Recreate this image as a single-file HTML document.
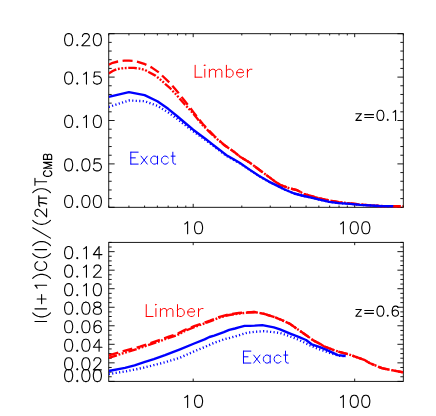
<!DOCTYPE html>
<html><head><meta charset="utf-8"><title>plot</title>
<style>html,body{margin:0;padding:0;background:#fff;font-family:"Liberation Sans",sans-serif;}svg{display:block}</style>
</head><body>
<svg width="436" height="416" viewBox="0 0 436 416">
<defs><clipPath id="c0"><rect x="108.75" y="33.7" width="294.55" height="175.10000000000002"/></clipPath><clipPath id="c1"><rect x="108.75" y="242.38" width="294.55" height="139.0"/></clipPath></defs>
<rect width="436" height="416" fill="#fff"/>
<rect x="108.75" y="33.70" width="294.55" height="173.60" fill="none" stroke="#000" stroke-width="0.9"/>
<line x1="108.75" y1="207.30" x2="108.75" y2="205.56" stroke="#000" stroke-width="0.9"/>
<line x1="108.75" y1="33.70" x2="108.75" y2="35.44" stroke="#000" stroke-width="0.9"/>
<line x1="128.93" y1="207.30" x2="128.93" y2="205.56" stroke="#000" stroke-width="0.9"/>
<line x1="128.93" y1="33.70" x2="128.93" y2="35.44" stroke="#000" stroke-width="0.9"/>
<line x1="144.58" y1="207.30" x2="144.58" y2="205.56" stroke="#000" stroke-width="0.9"/>
<line x1="144.58" y1="33.70" x2="144.58" y2="35.44" stroke="#000" stroke-width="0.9"/>
<line x1="157.36" y1="207.30" x2="157.36" y2="205.56" stroke="#000" stroke-width="0.9"/>
<line x1="157.36" y1="33.70" x2="157.36" y2="35.44" stroke="#000" stroke-width="0.9"/>
<line x1="168.18" y1="207.30" x2="168.18" y2="205.56" stroke="#000" stroke-width="0.9"/>
<line x1="168.18" y1="33.70" x2="168.18" y2="35.44" stroke="#000" stroke-width="0.9"/>
<line x1="177.54" y1="207.30" x2="177.54" y2="205.56" stroke="#000" stroke-width="0.9"/>
<line x1="177.54" y1="33.70" x2="177.54" y2="35.44" stroke="#000" stroke-width="0.9"/>
<line x1="185.80" y1="207.30" x2="185.80" y2="205.56" stroke="#000" stroke-width="0.9"/>
<line x1="185.80" y1="33.70" x2="185.80" y2="35.44" stroke="#000" stroke-width="0.9"/>
<line x1="193.19" y1="207.30" x2="193.19" y2="203.83" stroke="#000" stroke-width="0.9"/>
<line x1="193.19" y1="33.70" x2="193.19" y2="37.17" stroke="#000" stroke-width="0.9"/>
<line x1="241.81" y1="207.30" x2="241.81" y2="205.56" stroke="#000" stroke-width="0.9"/>
<line x1="241.81" y1="33.70" x2="241.81" y2="35.44" stroke="#000" stroke-width="0.9"/>
<line x1="270.24" y1="207.30" x2="270.24" y2="205.56" stroke="#000" stroke-width="0.9"/>
<line x1="270.24" y1="33.70" x2="270.24" y2="35.44" stroke="#000" stroke-width="0.9"/>
<line x1="290.42" y1="207.30" x2="290.42" y2="205.56" stroke="#000" stroke-width="0.9"/>
<line x1="290.42" y1="33.70" x2="290.42" y2="35.44" stroke="#000" stroke-width="0.9"/>
<line x1="306.07" y1="207.30" x2="306.07" y2="205.56" stroke="#000" stroke-width="0.9"/>
<line x1="306.07" y1="33.70" x2="306.07" y2="35.44" stroke="#000" stroke-width="0.9"/>
<line x1="318.86" y1="207.30" x2="318.86" y2="205.56" stroke="#000" stroke-width="0.9"/>
<line x1="318.86" y1="33.70" x2="318.86" y2="35.44" stroke="#000" stroke-width="0.9"/>
<line x1="329.67" y1="207.30" x2="329.67" y2="205.56" stroke="#000" stroke-width="0.9"/>
<line x1="329.67" y1="33.70" x2="329.67" y2="35.44" stroke="#000" stroke-width="0.9"/>
<line x1="339.04" y1="207.30" x2="339.04" y2="205.56" stroke="#000" stroke-width="0.9"/>
<line x1="339.04" y1="33.70" x2="339.04" y2="35.44" stroke="#000" stroke-width="0.9"/>
<line x1="347.30" y1="207.30" x2="347.30" y2="205.56" stroke="#000" stroke-width="0.9"/>
<line x1="347.30" y1="33.70" x2="347.30" y2="35.44" stroke="#000" stroke-width="0.9"/>
<line x1="354.69" y1="207.30" x2="354.69" y2="203.83" stroke="#000" stroke-width="0.9"/>
<line x1="354.69" y1="33.70" x2="354.69" y2="37.17" stroke="#000" stroke-width="0.9"/>
<line x1="403.30" y1="207.30" x2="403.30" y2="205.56" stroke="#000" stroke-width="0.9"/>
<line x1="403.30" y1="33.70" x2="403.30" y2="35.44" stroke="#000" stroke-width="0.9"/>
<line x1="108.75" y1="207.30" x2="114.64" y2="207.30" stroke="#000" stroke-width="0.9"/>
<line x1="403.30" y1="207.30" x2="397.41" y2="207.30" stroke="#000" stroke-width="0.9"/>
<line x1="108.75" y1="198.62" x2="111.70" y2="198.62" stroke="#000" stroke-width="0.9"/>
<line x1="403.30" y1="198.62" x2="400.35" y2="198.62" stroke="#000" stroke-width="0.9"/>
<line x1="108.75" y1="189.94" x2="111.70" y2="189.94" stroke="#000" stroke-width="0.9"/>
<line x1="403.30" y1="189.94" x2="400.35" y2="189.94" stroke="#000" stroke-width="0.9"/>
<line x1="108.75" y1="181.26" x2="111.70" y2="181.26" stroke="#000" stroke-width="0.9"/>
<line x1="403.30" y1="181.26" x2="400.35" y2="181.26" stroke="#000" stroke-width="0.9"/>
<line x1="108.75" y1="172.58" x2="111.70" y2="172.58" stroke="#000" stroke-width="0.9"/>
<line x1="403.30" y1="172.58" x2="400.35" y2="172.58" stroke="#000" stroke-width="0.9"/>
<line x1="108.75" y1="163.90" x2="114.64" y2="163.90" stroke="#000" stroke-width="0.9"/>
<line x1="403.30" y1="163.90" x2="397.41" y2="163.90" stroke="#000" stroke-width="0.9"/>
<line x1="108.75" y1="155.22" x2="111.70" y2="155.22" stroke="#000" stroke-width="0.9"/>
<line x1="403.30" y1="155.22" x2="400.35" y2="155.22" stroke="#000" stroke-width="0.9"/>
<line x1="108.75" y1="146.54" x2="111.70" y2="146.54" stroke="#000" stroke-width="0.9"/>
<line x1="403.30" y1="146.54" x2="400.35" y2="146.54" stroke="#000" stroke-width="0.9"/>
<line x1="108.75" y1="137.86" x2="111.70" y2="137.86" stroke="#000" stroke-width="0.9"/>
<line x1="403.30" y1="137.86" x2="400.35" y2="137.86" stroke="#000" stroke-width="0.9"/>
<line x1="108.75" y1="129.18" x2="111.70" y2="129.18" stroke="#000" stroke-width="0.9"/>
<line x1="403.30" y1="129.18" x2="400.35" y2="129.18" stroke="#000" stroke-width="0.9"/>
<line x1="108.75" y1="120.50" x2="114.64" y2="120.50" stroke="#000" stroke-width="0.9"/>
<line x1="403.30" y1="120.50" x2="397.41" y2="120.50" stroke="#000" stroke-width="0.9"/>
<line x1="108.75" y1="111.82" x2="111.70" y2="111.82" stroke="#000" stroke-width="0.9"/>
<line x1="403.30" y1="111.82" x2="400.35" y2="111.82" stroke="#000" stroke-width="0.9"/>
<line x1="108.75" y1="103.14" x2="111.70" y2="103.14" stroke="#000" stroke-width="0.9"/>
<line x1="403.30" y1="103.14" x2="400.35" y2="103.14" stroke="#000" stroke-width="0.9"/>
<line x1="108.75" y1="94.46" x2="111.70" y2="94.46" stroke="#000" stroke-width="0.9"/>
<line x1="403.30" y1="94.46" x2="400.35" y2="94.46" stroke="#000" stroke-width="0.9"/>
<line x1="108.75" y1="85.78" x2="111.70" y2="85.78" stroke="#000" stroke-width="0.9"/>
<line x1="403.30" y1="85.78" x2="400.35" y2="85.78" stroke="#000" stroke-width="0.9"/>
<line x1="108.75" y1="77.10" x2="114.64" y2="77.10" stroke="#000" stroke-width="0.9"/>
<line x1="403.30" y1="77.10" x2="397.41" y2="77.10" stroke="#000" stroke-width="0.9"/>
<line x1="108.75" y1="68.42" x2="111.70" y2="68.42" stroke="#000" stroke-width="0.9"/>
<line x1="403.30" y1="68.42" x2="400.35" y2="68.42" stroke="#000" stroke-width="0.9"/>
<line x1="108.75" y1="59.74" x2="111.70" y2="59.74" stroke="#000" stroke-width="0.9"/>
<line x1="403.30" y1="59.74" x2="400.35" y2="59.74" stroke="#000" stroke-width="0.9"/>
<line x1="108.75" y1="51.06" x2="111.70" y2="51.06" stroke="#000" stroke-width="0.9"/>
<line x1="403.30" y1="51.06" x2="400.35" y2="51.06" stroke="#000" stroke-width="0.9"/>
<line x1="108.75" y1="42.38" x2="111.70" y2="42.38" stroke="#000" stroke-width="0.9"/>
<line x1="403.30" y1="42.38" x2="400.35" y2="42.38" stroke="#000" stroke-width="0.9"/>
<line x1="108.75" y1="33.70" x2="114.64" y2="33.70" stroke="#000" stroke-width="0.9"/>
<line x1="403.30" y1="33.70" x2="397.41" y2="33.70" stroke="#000" stroke-width="0.9"/>
<path d="M68.05 195.43 L66.33 196.00 L65.18 197.72 L64.60 200.60 L64.60 202.32 L65.18 205.20 L66.33 206.93 L68.05 207.50 L69.20 207.50 L70.93 206.93 L72.08 205.20 L72.65 202.32 L72.65 200.60 L72.08 197.72 L70.93 196.00 L69.20 195.43 L68.05 195.43 M77.25 206.35 L76.68 206.93 L77.25 207.50 L77.83 206.93 L77.25 206.35 M85.30 195.43 L83.58 196.00 L82.43 197.72 L81.85 200.60 L81.85 202.32 L82.43 205.20 L83.58 206.93 L85.30 207.50 L86.45 207.50 L88.18 206.93 L89.33 205.20 L89.90 202.32 L89.90 200.60 L89.33 197.72 L88.18 196.00 L86.45 195.43 L85.30 195.43 M96.80 195.43 L95.08 196.00 L93.93 197.72 L93.35 200.60 L93.35 202.32 L93.93 205.20 L95.08 206.93 L96.80 207.50 L97.95 207.50 L99.68 206.93 L100.83 205.20 L101.40 202.32 L101.40 200.60 L100.83 197.72 L99.68 196.00 L97.95 195.43 L96.80 195.43" fill="none" stroke="#000" stroke-width="1.1" stroke-linecap="round" stroke-linejoin="round"/>
<path d="M68.05 158.83 L66.33 159.40 L65.18 161.12 L64.60 164.00 L64.60 165.72 L65.18 168.60 L66.33 170.33 L68.05 170.90 L69.20 170.90 L70.93 170.33 L72.08 168.60 L72.65 165.72 L72.65 164.00 L72.08 161.12 L70.93 159.40 L69.20 158.83 L68.05 158.83 M77.25 169.75 L76.68 170.33 L77.25 170.90 L77.83 170.33 L77.25 169.75 M85.30 158.83 L83.58 159.40 L82.43 161.12 L81.85 164.00 L81.85 165.72 L82.43 168.60 L83.58 170.33 L85.30 170.90 L86.45 170.90 L88.18 170.33 L89.33 168.60 L89.90 165.72 L89.90 164.00 L89.33 161.12 L88.18 159.40 L86.45 158.83 L85.30 158.83 M100.25 158.83 L94.50 158.83 L93.93 164.00 L94.50 163.43 L96.22 162.85 L97.95 162.85 L99.68 163.43 L100.83 164.58 L101.40 166.30 L101.40 167.45 L100.83 169.18 L99.68 170.33 L97.95 170.90 L96.22 170.90 L94.50 170.33 L93.93 169.75 L93.35 168.60" fill="none" stroke="#000" stroke-width="1.1" stroke-linecap="round" stroke-linejoin="round"/>
<path d="M68.05 115.42 L66.33 116.00 L65.18 117.72 L64.60 120.60 L64.60 122.33 L65.18 125.20 L66.33 126.92 L68.05 127.50 L69.20 127.50 L70.93 126.92 L72.08 125.20 L72.65 122.33 L72.65 120.60 L72.08 117.72 L70.93 116.00 L69.20 115.42 L68.05 115.42 M77.25 126.35 L76.68 126.92 L77.25 127.50 L77.83 126.92 L77.25 126.35 M83.58 117.72 L84.73 117.15 L86.45 115.42 L86.45 127.50 M96.80 115.42 L95.08 116.00 L93.93 117.72 L93.35 120.60 L93.35 122.33 L93.93 125.20 L95.08 126.92 L96.80 127.50 L97.95 127.50 L99.68 126.92 L100.83 125.20 L101.40 122.33 L101.40 120.60 L100.83 117.72 L99.68 116.00 L97.95 115.42 L96.80 115.42" fill="none" stroke="#000" stroke-width="1.1" stroke-linecap="round" stroke-linejoin="round"/>
<path d="M68.05 72.03 L66.33 72.60 L65.18 74.33 L64.60 77.20 L64.60 78.93 L65.18 81.80 L66.33 83.53 L68.05 84.10 L69.20 84.10 L70.93 83.53 L72.08 81.80 L72.65 78.93 L72.65 77.20 L72.08 74.33 L70.93 72.60 L69.20 72.03 L68.05 72.03 M77.25 82.95 L76.68 83.53 L77.25 84.10 L77.83 83.53 L77.25 82.95 M83.58 74.33 L84.73 73.75 L86.45 72.03 L86.45 84.10 M100.25 72.03 L94.50 72.03 L93.93 77.20 L94.50 76.63 L96.22 76.05 L97.95 76.05 L99.68 76.63 L100.83 77.78 L101.40 79.50 L101.40 80.65 L100.83 82.38 L99.68 83.53 L97.95 84.10 L96.22 84.10 L94.50 83.53 L93.93 82.95 L93.35 81.80" fill="none" stroke="#000" stroke-width="1.1" stroke-linecap="round" stroke-linejoin="round"/>
<path d="M68.05 33.60 L66.33 34.18 L65.18 35.90 L64.60 38.78 L64.60 40.50 L65.18 43.38 L66.33 45.10 L68.05 45.68 L69.20 45.68 L70.93 45.10 L72.08 43.38 L72.65 40.50 L72.65 38.78 L72.08 35.90 L70.93 34.18 L69.20 33.60 L68.05 33.60 M77.25 44.53 L76.68 45.10 L77.25 45.68 L77.83 45.10 L77.25 44.53 M82.43 36.48 L82.43 35.90 L83.00 34.75 L83.58 34.18 L84.73 33.60 L87.03 33.60 L88.18 34.18 L88.75 34.75 L89.33 35.90 L89.33 37.05 L88.75 38.20 L87.60 39.93 L81.85 45.68 L89.90 45.68 M96.80 33.60 L95.08 34.18 L93.93 35.90 L93.35 38.78 L93.35 40.50 L93.93 43.38 L95.08 45.10 L96.80 45.68 L97.95 45.68 L99.68 45.10 L100.83 43.38 L101.40 40.50 L101.40 38.78 L100.83 35.90 L99.68 34.18 L97.95 33.60 L96.80 33.60" fill="none" stroke="#000" stroke-width="1.1" stroke-linecap="round" stroke-linejoin="round"/>
<path d="M184.74 224.03 L185.89 223.45 L187.62 221.73 L187.62 233.80 M197.97 221.73 L196.24 222.30 L195.09 224.03 L194.52 226.90 L194.52 228.62 L195.09 231.50 L196.24 233.23 L197.97 233.80 L199.12 233.80 L200.84 233.23 L201.99 231.50 L202.57 228.62 L202.57 226.90 L201.99 224.03 L200.84 222.30 L199.12 221.73 L197.97 221.73" fill="none" stroke="#000" stroke-width="1.1" stroke-linecap="round" stroke-linejoin="round"/>
<path d="M340.49 224.03 L341.64 223.45 L343.36 221.73 L343.36 233.80 M353.71 221.73 L351.99 222.30 L350.84 224.03 L350.26 226.90 L350.26 228.62 L350.84 231.50 L351.99 233.23 L353.71 233.80 L354.86 233.80 L356.59 233.23 L357.74 231.50 L358.31 228.62 L358.31 226.90 L357.74 224.03 L356.59 222.30 L354.86 221.73 L353.71 221.73 M365.21 221.73 L363.49 222.30 L362.34 224.03 L361.76 226.90 L361.76 228.62 L362.34 231.50 L363.49 233.23 L365.21 233.80 L366.36 233.80 L368.09 233.23 L369.24 231.50 L369.81 228.62 L369.81 226.90 L369.24 224.03 L368.09 222.30 L366.36 221.73 L365.21 221.73" fill="none" stroke="#000" stroke-width="1.1" stroke-linecap="round" stroke-linejoin="round"/>
<path d="M108.70 64.70 L112.70 62.80 L118.00 61.50 L124.20 60.70 L129.00 60.60 L133.85 60.90 L138.65 62.10 L145.00 64.20 L151.50 67.40 L159.20 72.70 L163.10 76.50 L169.80 83.00 L173.65 87.20 L178.50 93.00 L184.60 100.80 L193.60 112.40 L203.00 124.20 L208.80 130.20 L214.60 136.30 L224.20 145.00 L233.85 151.70 L240.00 156.70 L249.60 162.50 L259.20 169.70 L268.85 176.90 L275.00 181.50 L280.80 185.20 L289.40 188.30 L297.10 190.20 L303.85 193.80 L315.00 197.20 L324.40 199.50 L338.85 202.20 L350.00 203.40 L360.00 204.50 L378.80 206.00 L403.30 206.30" fill="none" stroke="#f00" stroke-width="2.35" stroke-linejoin="round" stroke-dasharray="10 4.5" clip-path="url(#c0)"/>
<path d="M108.70 73.40 L112.70 71.00 L116.50 69.20 L122.30 68.30 L129.00 67.90 L133.85 67.90 L138.65 68.40 L145.00 69.90 L149.10 72.30 L155.40 75.60 L157.80 77.50 L160.70 79.90 L163.60 82.30 L166.00 84.70 L169.80 87.80 L172.70 91.00 L175.60 93.90 L178.10 96.80 L184.60 104.20 L193.60 114.00 L203.00 125.60 L208.80 131.30 L214.60 136.90 L224.20 145.00 L233.85 151.70 L240.00 156.70 L249.60 162.50 L259.20 169.70 L268.85 176.90 L275.00 181.50 L280.80 185.20 L289.40 188.30 L297.10 190.20 L303.85 193.80 L315.00 197.20 L324.40 199.50 L338.85 202.20 L350.00 203.40 L360.00 204.50 L378.80 206.00 L403.30 206.30" fill="none" stroke="#f00" stroke-width="2.35" stroke-linejoin="round" stroke-dasharray="8.6 1.7 1.85 1.6 1.85 1.6 1.85 1.65" clip-path="url(#c0)"/>
<path d="M108.70 96.80 L128.93 92.10 L144.58 95.10 L157.36 101.30 L168.18 108.80 L177.54 116.50 L185.80 123.50 L193.19 129.70 L199.88 134.70 L205.98 139.30 L211.59 143.70 L216.79 147.70 L221.63 151.40 L226.50 155.20 L233.65 159.30 L240.00 163.00 L249.60 169.60 L259.20 175.90 L268.85 181.60 L275.00 184.60 L280.00 187.10 L284.60 189.50 L294.20 193.50 L303.85 196.00 L310.00 197.30 L319.60 199.70 L329.20 201.90 L338.85 203.10 L350.00 203.90 L360.00 204.80 L378.80 206.00 L393.30 206.20" fill="none" stroke="#00f" stroke-width="2.35" stroke-linejoin="round" clip-path="url(#c0)"/>
<path d="M108.70 106.90 L128.93 100.50 L144.58 101.20 L157.36 105.80 L168.18 112.40 L177.54 119.20 L185.80 125.60 L193.19 131.30 L199.88 136.00 L205.98 140.40 L211.59 144.60 L216.79 148.50 L221.63 152.20 L226.50 155.90 L233.65 159.90 L240.00 163.50 L249.60 170.00 L259.20 176.20 L268.85 181.80 L275.00 184.60 L280.00 187.10 L284.60 189.50 L294.20 193.50 L303.85 196.00 L310.00 197.30 L319.60 199.70 L329.20 201.90 L338.85 203.10 L350.00 203.90 L360.00 204.80 L378.80 206.00 L393.30 206.20" fill="none" stroke="#00f" stroke-width="2.35" stroke-linejoin="round" stroke-dasharray="1.15 2.35" clip-path="url(#c0)"/>
<path d="M195.16 65.27 L195.16 77.20 M195.16 77.20 L201.98 77.20 M204.25 65.27 L204.82 65.84 L205.39 65.27 L204.82 64.70 L204.25 65.27 M204.82 69.25 L204.82 77.20 M209.36 69.25 L209.36 77.20 M209.36 71.52 L211.07 69.82 L212.20 69.25 L213.91 69.25 L215.04 69.82 L215.61 71.52 L215.61 77.20 M215.61 71.52 L217.32 69.82 L218.45 69.25 L220.16 69.25 L221.29 69.82 L221.86 71.52 L221.86 77.20 M226.40 65.27 L226.40 77.20 M226.40 70.95 L227.54 69.82 L228.68 69.25 L230.38 69.25 L231.52 69.82 L232.65 70.95 L233.22 72.66 L233.22 73.79 L232.65 75.50 L231.52 76.63 L230.38 77.20 L228.68 77.20 L227.54 76.63 L226.40 75.50 M236.63 72.66 L243.44 72.66 L243.44 71.52 L242.88 70.38 L242.31 69.82 L241.17 69.25 L239.47 69.25 L238.33 69.82 L237.20 70.95 L236.63 72.66 L236.63 73.79 L237.20 75.50 L238.33 76.63 L239.47 77.20 L241.17 77.20 L242.31 76.63 L243.44 75.50 M247.42 69.25 L247.42 77.20 M247.42 72.66 L247.99 70.95 L249.12 69.82 L250.26 69.25 L251.96 69.25" fill="none" stroke="#f00" stroke-width="1.0" stroke-linecap="round" stroke-linejoin="round"/>
<path d="M130.80 152.17 L130.80 164.10 M130.80 152.17 L138.18 152.17 M130.80 157.85 L135.34 157.85 M130.80 164.10 L138.18 164.10 M141.02 156.15 L147.27 164.10 M147.27 156.15 L141.02 164.10 M157.49 156.15 L157.49 164.10 M157.49 157.85 L156.36 156.72 L155.22 156.15 L153.52 156.15 L152.38 156.72 L151.25 157.85 L150.68 159.56 L150.68 160.69 L151.25 162.40 L152.38 163.53 L153.52 164.10 L155.22 164.10 L156.36 163.53 L157.49 162.40 M168.29 157.85 L167.15 156.72 L166.01 156.15 L164.31 156.15 L163.17 156.72 L162.04 157.85 L161.47 159.56 L161.47 160.69 L162.04 162.40 L163.17 163.53 L164.31 164.10 L166.01 164.10 L167.15 163.53 L168.29 162.40 M172.83 152.17 L172.83 161.83 L173.40 163.53 L174.53 164.10 L175.67 164.10 M171.13 156.15 L175.10 156.15" fill="none" stroke="#00f" stroke-width="1.0" stroke-linecap="round" stroke-linejoin="round"/>
<path d="M361.30 113.68 L355.91 120.40 M355.91 113.68 L361.30 113.68 M355.91 120.40 L361.30 120.40 M364.73 114.64 L373.55 114.64 M364.73 117.52 L373.55 117.52 M379.92 110.32 L378.45 110.80 L377.47 112.24 L376.98 114.64 L376.98 116.08 L377.47 118.48 L378.45 119.92 L379.92 120.40 L380.90 120.40 L382.37 119.92 L383.35 118.48 L383.84 116.08 L383.84 114.64 L383.35 112.24 L382.37 110.80 L380.90 110.32 L379.92 110.32 M387.76 119.44 L387.27 119.92 L387.76 120.40 L388.25 119.92 L387.76 119.44 M393.15 112.24 L394.13 111.76 L395.60 110.32 L395.60 120.40" fill="none" stroke="#000" stroke-width="1.1" stroke-linecap="round" stroke-linejoin="round"/>
<rect x="108.75" y="242.38" width="294.55" height="139.00" fill="none" stroke="#000" stroke-width="0.9"/>
<line x1="193.19" y1="381.38" x2="193.19" y2="378.60" stroke="#000" stroke-width="0.9"/>
<line x1="193.19" y1="242.38" x2="193.19" y2="245.16" stroke="#000" stroke-width="0.9"/>
<line x1="354.69" y1="381.38" x2="354.69" y2="378.60" stroke="#000" stroke-width="0.9"/>
<line x1="354.69" y1="242.38" x2="354.69" y2="245.16" stroke="#000" stroke-width="0.9"/>
<line x1="108.75" y1="381.38" x2="114.64" y2="381.38" stroke="#000" stroke-width="0.9"/>
<line x1="403.30" y1="381.38" x2="397.41" y2="381.38" stroke="#000" stroke-width="0.9"/>
<line x1="108.75" y1="376.75" x2="111.70" y2="376.75" stroke="#000" stroke-width="0.9"/>
<line x1="403.30" y1="376.75" x2="400.35" y2="376.75" stroke="#000" stroke-width="0.9"/>
<line x1="108.75" y1="372.11" x2="111.70" y2="372.11" stroke="#000" stroke-width="0.9"/>
<line x1="403.30" y1="372.11" x2="400.35" y2="372.11" stroke="#000" stroke-width="0.9"/>
<line x1="108.75" y1="367.48" x2="111.70" y2="367.48" stroke="#000" stroke-width="0.9"/>
<line x1="403.30" y1="367.48" x2="400.35" y2="367.48" stroke="#000" stroke-width="0.9"/>
<line x1="108.75" y1="362.85" x2="114.64" y2="362.85" stroke="#000" stroke-width="0.9"/>
<line x1="403.30" y1="362.85" x2="397.41" y2="362.85" stroke="#000" stroke-width="0.9"/>
<line x1="108.75" y1="358.21" x2="111.70" y2="358.21" stroke="#000" stroke-width="0.9"/>
<line x1="403.30" y1="358.21" x2="400.35" y2="358.21" stroke="#000" stroke-width="0.9"/>
<line x1="108.75" y1="353.58" x2="111.70" y2="353.58" stroke="#000" stroke-width="0.9"/>
<line x1="403.30" y1="353.58" x2="400.35" y2="353.58" stroke="#000" stroke-width="0.9"/>
<line x1="108.75" y1="348.95" x2="111.70" y2="348.95" stroke="#000" stroke-width="0.9"/>
<line x1="403.30" y1="348.95" x2="400.35" y2="348.95" stroke="#000" stroke-width="0.9"/>
<line x1="108.75" y1="344.31" x2="114.64" y2="344.31" stroke="#000" stroke-width="0.9"/>
<line x1="403.30" y1="344.31" x2="397.41" y2="344.31" stroke="#000" stroke-width="0.9"/>
<line x1="108.75" y1="339.68" x2="111.70" y2="339.68" stroke="#000" stroke-width="0.9"/>
<line x1="403.30" y1="339.68" x2="400.35" y2="339.68" stroke="#000" stroke-width="0.9"/>
<line x1="108.75" y1="335.05" x2="111.70" y2="335.05" stroke="#000" stroke-width="0.9"/>
<line x1="403.30" y1="335.05" x2="400.35" y2="335.05" stroke="#000" stroke-width="0.9"/>
<line x1="108.75" y1="330.41" x2="111.70" y2="330.41" stroke="#000" stroke-width="0.9"/>
<line x1="403.30" y1="330.41" x2="400.35" y2="330.41" stroke="#000" stroke-width="0.9"/>
<line x1="108.75" y1="325.78" x2="114.64" y2="325.78" stroke="#000" stroke-width="0.9"/>
<line x1="403.30" y1="325.78" x2="397.41" y2="325.78" stroke="#000" stroke-width="0.9"/>
<line x1="108.75" y1="321.15" x2="111.70" y2="321.15" stroke="#000" stroke-width="0.9"/>
<line x1="403.30" y1="321.15" x2="400.35" y2="321.15" stroke="#000" stroke-width="0.9"/>
<line x1="108.75" y1="316.51" x2="111.70" y2="316.51" stroke="#000" stroke-width="0.9"/>
<line x1="403.30" y1="316.51" x2="400.35" y2="316.51" stroke="#000" stroke-width="0.9"/>
<line x1="108.75" y1="311.88" x2="111.70" y2="311.88" stroke="#000" stroke-width="0.9"/>
<line x1="403.30" y1="311.88" x2="400.35" y2="311.88" stroke="#000" stroke-width="0.9"/>
<line x1="108.75" y1="307.25" x2="114.64" y2="307.25" stroke="#000" stroke-width="0.9"/>
<line x1="403.30" y1="307.25" x2="397.41" y2="307.25" stroke="#000" stroke-width="0.9"/>
<line x1="108.75" y1="302.61" x2="111.70" y2="302.61" stroke="#000" stroke-width="0.9"/>
<line x1="403.30" y1="302.61" x2="400.35" y2="302.61" stroke="#000" stroke-width="0.9"/>
<line x1="108.75" y1="297.98" x2="111.70" y2="297.98" stroke="#000" stroke-width="0.9"/>
<line x1="403.30" y1="297.98" x2="400.35" y2="297.98" stroke="#000" stroke-width="0.9"/>
<line x1="108.75" y1="293.35" x2="111.70" y2="293.35" stroke="#000" stroke-width="0.9"/>
<line x1="403.30" y1="293.35" x2="400.35" y2="293.35" stroke="#000" stroke-width="0.9"/>
<line x1="108.75" y1="288.71" x2="114.64" y2="288.71" stroke="#000" stroke-width="0.9"/>
<line x1="403.30" y1="288.71" x2="397.41" y2="288.71" stroke="#000" stroke-width="0.9"/>
<line x1="108.75" y1="284.08" x2="111.70" y2="284.08" stroke="#000" stroke-width="0.9"/>
<line x1="403.30" y1="284.08" x2="400.35" y2="284.08" stroke="#000" stroke-width="0.9"/>
<line x1="108.75" y1="279.45" x2="111.70" y2="279.45" stroke="#000" stroke-width="0.9"/>
<line x1="403.30" y1="279.45" x2="400.35" y2="279.45" stroke="#000" stroke-width="0.9"/>
<line x1="108.75" y1="274.81" x2="111.70" y2="274.81" stroke="#000" stroke-width="0.9"/>
<line x1="403.30" y1="274.81" x2="400.35" y2="274.81" stroke="#000" stroke-width="0.9"/>
<line x1="108.75" y1="270.18" x2="114.64" y2="270.18" stroke="#000" stroke-width="0.9"/>
<line x1="403.30" y1="270.18" x2="397.41" y2="270.18" stroke="#000" stroke-width="0.9"/>
<line x1="108.75" y1="265.55" x2="111.70" y2="265.55" stroke="#000" stroke-width="0.9"/>
<line x1="403.30" y1="265.55" x2="400.35" y2="265.55" stroke="#000" stroke-width="0.9"/>
<line x1="108.75" y1="260.91" x2="111.70" y2="260.91" stroke="#000" stroke-width="0.9"/>
<line x1="403.30" y1="260.91" x2="400.35" y2="260.91" stroke="#000" stroke-width="0.9"/>
<line x1="108.75" y1="256.28" x2="111.70" y2="256.28" stroke="#000" stroke-width="0.9"/>
<line x1="403.30" y1="256.28" x2="400.35" y2="256.28" stroke="#000" stroke-width="0.9"/>
<line x1="108.75" y1="251.65" x2="114.64" y2="251.65" stroke="#000" stroke-width="0.9"/>
<line x1="403.30" y1="251.65" x2="397.41" y2="251.65" stroke="#000" stroke-width="0.9"/>
<line x1="108.75" y1="247.01" x2="111.70" y2="247.01" stroke="#000" stroke-width="0.9"/>
<line x1="403.30" y1="247.01" x2="400.35" y2="247.01" stroke="#000" stroke-width="0.9"/>
<line x1="108.75" y1="242.38" x2="111.70" y2="242.38" stroke="#000" stroke-width="0.9"/>
<line x1="403.30" y1="242.38" x2="400.35" y2="242.38" stroke="#000" stroke-width="0.9"/>
<path d="M68.05 369.50 L66.33 370.08 L65.18 371.81 L64.60 374.68 L64.60 376.40 L65.18 379.28 L66.33 381.00 L68.05 381.58 L69.20 381.58 L70.93 381.00 L72.08 379.28 L72.65 376.40 L72.65 374.68 L72.08 371.81 L70.93 370.08 L69.20 369.50 L68.05 369.50 M77.25 380.43 L76.68 381.00 L77.25 381.58 L77.83 381.00 L77.25 380.43 M85.30 369.50 L83.58 370.08 L82.43 371.81 L81.85 374.68 L81.85 376.40 L82.43 379.28 L83.58 381.00 L85.30 381.58 L86.45 381.58 L88.18 381.00 L89.33 379.28 L89.90 376.40 L89.90 374.68 L89.33 371.81 L88.18 370.08 L86.45 369.50 L85.30 369.50 M96.80 369.50 L95.08 370.08 L93.93 371.81 L93.35 374.68 L93.35 376.40 L93.93 379.28 L95.08 381.00 L96.80 381.58 L97.95 381.58 L99.68 381.00 L100.83 379.28 L101.40 376.40 L101.40 374.68 L100.83 371.81 L99.68 370.08 L97.95 369.50 L96.80 369.50" fill="none" stroke="#000" stroke-width="1.1" stroke-linecap="round" stroke-linejoin="round"/>
<path d="M68.05 357.77 L66.33 358.35 L65.18 360.07 L64.60 362.95 L64.60 364.67 L65.18 367.55 L66.33 369.27 L68.05 369.85 L69.20 369.85 L70.93 369.27 L72.08 367.55 L72.65 364.67 L72.65 362.95 L72.08 360.07 L70.93 358.35 L69.20 357.77 L68.05 357.77 M77.25 368.70 L76.68 369.27 L77.25 369.85 L77.83 369.27 L77.25 368.70 M85.30 357.77 L83.58 358.35 L82.43 360.07 L81.85 362.95 L81.85 364.67 L82.43 367.55 L83.58 369.27 L85.30 369.85 L86.45 369.85 L88.18 369.27 L89.33 367.55 L89.90 364.67 L89.90 362.95 L89.33 360.07 L88.18 358.35 L86.45 357.77 L85.30 357.77 M93.93 360.65 L93.93 360.07 L94.50 358.92 L95.08 358.35 L96.22 357.77 L98.53 357.77 L99.68 358.35 L100.25 358.92 L100.83 360.07 L100.83 361.22 L100.25 362.37 L99.10 364.10 L93.35 369.85 L101.40 369.85" fill="none" stroke="#000" stroke-width="1.1" stroke-linecap="round" stroke-linejoin="round"/>
<path d="M68.05 339.24 L66.33 339.81 L65.18 341.54 L64.60 344.41 L64.60 346.14 L65.18 349.01 L66.33 350.74 L68.05 351.31 L69.20 351.31 L70.93 350.74 L72.08 349.01 L72.65 346.14 L72.65 344.41 L72.08 341.54 L70.93 339.81 L69.20 339.24 L68.05 339.24 M77.25 350.16 L76.68 350.74 L77.25 351.31 L77.83 350.74 L77.25 350.16 M85.30 339.24 L83.58 339.81 L82.43 341.54 L81.85 344.41 L81.85 346.14 L82.43 349.01 L83.58 350.74 L85.30 351.31 L86.45 351.31 L88.18 350.74 L89.33 349.01 L89.90 346.14 L89.90 344.41 L89.33 341.54 L88.18 339.81 L86.45 339.24 L85.30 339.24 M99.10 339.24 L93.35 347.29 L101.97 347.29 M99.10 339.24 L99.10 351.31" fill="none" stroke="#000" stroke-width="1.1" stroke-linecap="round" stroke-linejoin="round"/>
<path d="M68.05 320.70 L66.33 321.28 L65.18 323.00 L64.60 325.88 L64.60 327.60 L65.18 330.48 L66.33 332.20 L68.05 332.78 L69.20 332.78 L70.93 332.20 L72.08 330.48 L72.65 327.60 L72.65 325.88 L72.08 323.00 L70.93 321.28 L69.20 320.70 L68.05 320.70 M77.25 331.63 L76.68 332.20 L77.25 332.78 L77.83 332.20 L77.25 331.63 M85.30 320.70 L83.58 321.28 L82.43 323.00 L81.85 325.88 L81.85 327.60 L82.43 330.48 L83.58 332.20 L85.30 332.78 L86.45 332.78 L88.18 332.20 L89.33 330.48 L89.90 327.60 L89.90 325.88 L89.33 323.00 L88.18 321.28 L86.45 320.70 L85.30 320.70 M100.83 322.43 L100.25 321.28 L98.53 320.70 L97.38 320.70 L95.65 321.28 L94.50 323.00 L93.93 325.88 L93.93 328.75 L94.50 331.05 L95.65 332.20 L97.38 332.78 L97.95 332.78 L99.68 332.20 L100.83 331.05 L101.40 329.33 L101.40 328.75 L100.83 327.03 L99.68 325.88 L97.95 325.30 L97.38 325.30 L95.65 325.88 L94.50 327.03 L93.93 328.75" fill="none" stroke="#000" stroke-width="1.1" stroke-linecap="round" stroke-linejoin="round"/>
<path d="M68.05 302.17 L66.33 302.75 L65.18 304.47 L64.60 307.35 L64.60 309.07 L65.18 311.95 L66.33 313.67 L68.05 314.25 L69.20 314.25 L70.93 313.67 L72.08 311.95 L72.65 309.07 L72.65 307.35 L72.08 304.47 L70.93 302.75 L69.20 302.17 L68.05 302.17 M77.25 313.10 L76.68 313.67 L77.25 314.25 L77.83 313.67 L77.25 313.10 M85.30 302.17 L83.58 302.75 L82.43 304.47 L81.85 307.35 L81.85 309.07 L82.43 311.95 L83.58 313.67 L85.30 314.25 L86.45 314.25 L88.18 313.67 L89.33 311.95 L89.90 309.07 L89.90 307.35 L89.33 304.47 L88.18 302.75 L86.45 302.17 L85.30 302.17 M96.22 302.17 L94.50 302.75 L93.93 303.90 L93.93 305.05 L94.50 306.20 L95.65 306.77 L97.95 307.35 L99.68 307.92 L100.83 309.07 L101.40 310.22 L101.40 311.95 L100.83 313.10 L100.25 313.67 L98.53 314.25 L96.22 314.25 L94.50 313.67 L93.93 313.10 L93.35 311.95 L93.35 310.22 L93.93 309.07 L95.08 307.92 L96.80 307.35 L99.10 306.77 L100.25 306.20 L100.83 305.05 L100.83 303.90 L100.25 302.75 L98.53 302.17 L96.22 302.17" fill="none" stroke="#000" stroke-width="1.1" stroke-linecap="round" stroke-linejoin="round"/>
<path d="M68.05 283.64 L66.33 284.21 L65.18 285.94 L64.60 288.81 L64.60 290.54 L65.18 293.41 L66.33 295.14 L68.05 295.71 L69.20 295.71 L70.93 295.14 L72.08 293.41 L72.65 290.54 L72.65 288.81 L72.08 285.94 L70.93 284.21 L69.20 283.64 L68.05 283.64 M77.25 294.56 L76.68 295.14 L77.25 295.71 L77.83 295.14 L77.25 294.56 M83.58 285.94 L84.73 285.36 L86.45 283.64 L86.45 295.71 M96.80 283.64 L95.08 284.21 L93.93 285.94 L93.35 288.81 L93.35 290.54 L93.93 293.41 L95.08 295.14 L96.80 295.71 L97.95 295.71 L99.68 295.14 L100.83 293.41 L101.40 290.54 L101.40 288.81 L100.83 285.94 L99.68 284.21 L97.95 283.64 L96.80 283.64" fill="none" stroke="#000" stroke-width="1.1" stroke-linecap="round" stroke-linejoin="round"/>
<path d="M68.05 265.11 L66.33 265.68 L65.18 267.41 L64.60 270.28 L64.60 272.00 L65.18 274.88 L66.33 276.61 L68.05 277.18 L69.20 277.18 L70.93 276.61 L72.08 274.88 L72.65 272.00 L72.65 270.28 L72.08 267.41 L70.93 265.68 L69.20 265.11 L68.05 265.11 M77.25 276.03 L76.68 276.61 L77.25 277.18 L77.83 276.61 L77.25 276.03 M83.58 267.41 L84.73 266.83 L86.45 265.11 L86.45 277.18 M93.93 267.98 L93.93 267.41 L94.50 266.25 L95.08 265.68 L96.22 265.11 L98.53 265.11 L99.68 265.68 L100.25 266.25 L100.83 267.41 L100.83 268.56 L100.25 269.70 L99.10 271.43 L93.35 277.18 L101.40 277.18" fill="none" stroke="#000" stroke-width="1.1" stroke-linecap="round" stroke-linejoin="round"/>
<path d="M68.05 246.57 L66.33 247.15 L65.18 248.87 L64.60 251.75 L64.60 253.47 L65.18 256.35 L66.33 258.07 L68.05 258.65 L69.20 258.65 L70.93 258.07 L72.08 256.35 L72.65 253.47 L72.65 251.75 L72.08 248.87 L70.93 247.15 L69.20 246.57 L68.05 246.57 M77.25 257.50 L76.68 258.07 L77.25 258.65 L77.83 258.07 L77.25 257.50 M83.58 248.87 L84.73 248.30 L86.45 246.57 L86.45 258.65 M99.10 246.57 L93.35 254.62 L101.97 254.62 M99.10 246.57 L99.10 258.65" fill="none" stroke="#000" stroke-width="1.1" stroke-linecap="round" stroke-linejoin="round"/>
<path d="M184.74 397.61 L185.89 397.03 L187.62 395.31 L187.62 407.38 M197.97 395.31 L196.24 395.88 L195.09 397.61 L194.52 400.48 L194.52 402.20 L195.09 405.08 L196.24 406.81 L197.97 407.38 L199.12 407.38 L200.84 406.81 L201.99 405.08 L202.57 402.20 L202.57 400.48 L201.99 397.61 L200.84 395.88 L199.12 395.31 L197.97 395.31" fill="none" stroke="#000" stroke-width="1.1" stroke-linecap="round" stroke-linejoin="round"/>
<path d="M340.49 397.61 L341.64 397.03 L343.36 395.31 L343.36 407.38 M353.71 395.31 L351.99 395.88 L350.84 397.61 L350.26 400.48 L350.26 402.20 L350.84 405.08 L351.99 406.81 L353.71 407.38 L354.86 407.38 L356.59 406.81 L357.74 405.08 L358.31 402.20 L358.31 400.48 L357.74 397.61 L356.59 395.88 L354.86 395.31 L353.71 395.31 M365.21 395.31 L363.49 395.88 L362.34 397.61 L361.76 400.48 L361.76 402.20 L362.34 405.08 L363.49 406.81 L365.21 407.38 L366.36 407.38 L368.09 406.81 L369.24 405.08 L369.81 402.20 L369.81 400.48 L369.24 397.61 L368.09 395.88 L366.36 395.31 L365.21 395.31" fill="none" stroke="#000" stroke-width="1.1" stroke-linecap="round" stroke-linejoin="round"/>
<path d="M108.70 355.30 L124.20 350.90 L140.00 346.70 L149.60 343.40 L159.20 340.10 L168.85 336.70 L176.90 334.10 L184.60 330.00 L194.20 326.20 L203.85 322.80 L210.00 320.60 L219.60 316.80 L229.20 314.40 L238.85 313.00 L247.00 312.40 L254.60 312.00 L264.20 313.90 L273.85 316.80 L280.00 319.30 L289.60 323.65 L299.20 330.40 L308.85 337.10 L313.30 340.40 L320.00 343.85 L324.20 346.50 L335.60 350.80 L344.80 353.30 L351.70 355.40 L365.00 360.20 L369.50 363.00 L381.90 368.20 L392.25 370.25 L403.30 372.40" fill="none" stroke="#f00" stroke-width="2.35" stroke-linejoin="round" stroke-dasharray="10 4.5" clip-path="url(#c1)"/>
<path d="M108.70 357.90 L124.20 352.90 L140.00 348.00 L149.60 344.60 L159.20 341.30 L168.85 337.90 L176.90 335.30 L184.60 331.10 L194.20 327.10 L203.85 323.70 L210.00 321.40 L219.60 317.50 L229.20 315.00 L238.85 313.50 L247.00 312.70 L254.60 312.00 L264.20 313.90 L273.85 316.80 L280.00 319.30 L289.60 323.65 L299.20 330.40 L308.85 337.10 L313.30 340.40 L320.00 343.85 L324.20 346.50 L335.60 350.80 L344.80 353.30 L351.70 355.40 L365.00 360.20 L369.50 363.00 L381.90 368.20 L392.25 370.25 L403.30 372.40" fill="none" stroke="#f00" stroke-width="2.35" stroke-linejoin="round" stroke-dasharray="8.6 1.7 1.85 1.6 1.85 1.6 1.85 1.65" clip-path="url(#c1)"/>
<path d="M108.70 371.00 L125.00 367.90 L134.60 365.30 L144.20 362.20 L153.85 359.10 L165.00 355.10 L180.00 349.30 L194.20 343.50 L204.60 339.40 L209.40 337.00 L214.20 335.60 L223.85 332.20 L229.20 329.90 L235.00 328.50 L238.85 327.40 L244.60 325.90 L250.00 325.80 L254.60 325.70 L262.30 325.10 L273.85 327.40 L280.00 329.40 L289.60 333.30 L299.20 337.10 L306.00 340.00 L311.70 344.30 L320.00 347.20 L326.50 349.90 L337.90 355.10 L345.70 356.00" fill="none" stroke="#00f" stroke-width="2.35" stroke-linejoin="round" clip-path="url(#c1)"/>
<path d="M108.70 374.00 L125.00 371.50 L134.60 369.60 L144.20 367.50 L153.85 365.10 L165.00 362.30 L180.00 357.70 L195.00 351.00 L204.60 347.10 L214.20 342.80 L223.85 339.40 L235.00 336.50 L247.00 332.80 L254.60 331.80 L264.20 331.20 L273.85 332.20 L280.00 333.00 L289.60 336.20 L299.20 340.00 L308.85 344.80 L316.50 348.20 L324.80 351.20 L337.90 355.60 L345.70 356.30" fill="none" stroke="#00f" stroke-width="2.35" stroke-linejoin="round" stroke-dasharray="1.15 2.35" clip-path="url(#c1)"/>
<path d="M146.25 304.59 L146.25 316.51 M146.25 316.51 L153.07 316.51 M155.34 304.59 L155.91 305.15 L156.47 304.59 L155.91 304.02 L155.34 304.59 M155.91 308.56 L155.91 316.51 M160.45 308.56 L160.45 316.51 M160.45 310.83 L162.15 309.13 L163.29 308.56 L164.99 308.56 L166.13 309.13 L166.70 310.83 L166.70 316.51 M166.70 310.83 L168.40 309.13 L169.54 308.56 L171.24 308.56 L172.38 309.13 L172.95 310.83 L172.95 316.51 M177.49 304.59 L177.49 316.51 M177.49 310.27 L178.63 309.13 L179.76 308.56 L181.47 308.56 L182.60 309.13 L183.74 310.27 L184.31 311.97 L184.31 313.11 L183.74 314.81 L182.60 315.95 L181.47 316.51 L179.76 316.51 L178.63 315.95 L177.49 314.81 M187.71 311.97 L194.53 311.97 L194.53 310.83 L193.96 309.70 L193.39 309.13 L192.26 308.56 L190.55 308.56 L189.42 309.13 L188.28 310.27 L187.71 311.97 L187.71 313.11 L188.28 314.81 L189.42 315.95 L190.55 316.51 L192.26 316.51 L193.39 315.95 L194.53 314.81 M198.51 308.56 L198.51 316.51 M198.51 311.97 L199.07 310.27 L200.21 309.13 L201.35 308.56 L203.05 308.56" fill="none" stroke="#f00" stroke-width="1.0" stroke-linecap="round" stroke-linejoin="round"/>
<path d="M243.48 351.12 L243.48 363.05 M243.48 351.12 L250.86 351.12 M243.48 356.80 L248.02 356.80 M243.48 363.05 L250.86 363.05 M253.70 355.09 L259.95 363.05 M259.95 355.09 L253.70 363.05 M270.17 355.09 L270.17 363.05 M270.17 356.80 L269.04 355.66 L267.90 355.09 L266.20 355.09 L265.06 355.66 L263.93 356.80 L263.36 358.50 L263.36 359.64 L263.93 361.34 L265.06 362.48 L266.20 363.05 L267.90 363.05 L269.04 362.48 L270.17 361.34 M280.97 356.80 L279.83 355.66 L278.69 355.09 L276.99 355.09 L275.85 355.66 L274.72 356.80 L274.15 358.50 L274.15 359.64 L274.72 361.34 L275.85 362.48 L276.99 363.05 L278.69 363.05 L279.83 362.48 L280.97 361.34 M285.51 351.12 L285.51 360.77 L286.08 362.48 L287.21 363.05 L288.35 363.05 M283.81 355.09 L287.78 355.09" fill="none" stroke="#00f" stroke-width="1.0" stroke-linecap="round" stroke-linejoin="round"/>
<path d="M361.30 309.49 L355.91 316.21 M355.91 309.49 L361.30 309.49 M355.91 316.21 L361.30 316.21 M364.73 310.45 L373.55 310.45 M364.73 313.33 L373.55 313.33 M379.92 306.13 L378.45 306.61 L377.47 308.05 L376.98 310.45 L376.98 311.89 L377.47 314.29 L378.45 315.73 L379.92 316.21 L380.90 316.21 L382.37 315.73 L383.35 314.29 L383.84 311.89 L383.84 310.45 L383.35 308.05 L382.37 306.61 L380.90 306.13 L379.92 306.13 M387.76 315.25 L387.27 315.73 L387.76 316.21 L388.25 315.73 L387.76 315.25 M398.05 307.57 L397.56 306.61 L396.09 306.13 L395.11 306.13 L393.64 306.61 L392.66 308.05 L392.17 310.45 L392.17 312.85 L392.66 314.77 L393.64 315.73 L395.11 316.21 L395.60 316.21 L397.07 315.73 L398.05 314.77 L398.54 313.33 L398.54 312.85 L398.05 311.41 L397.07 310.45 L395.60 309.97 L395.11 309.97 L393.64 310.45 L392.66 311.41 L392.17 312.85" fill="none" stroke="#000" stroke-width="1.1" stroke-linecap="round" stroke-linejoin="round"/>
<path d="M34.95 321.50 L46.60 321.50 M32.73 312.88 L33.84 314.03 L35.50 315.18 L37.72 316.32 L40.50 316.90 L42.72 316.90 L45.49 316.32 L47.71 315.18 L49.38 314.03 L50.48 312.88 M34.95 308.85 L46.60 308.85 M37.16 299.07 L46.05 299.07 M41.61 303.68 L41.61 294.48 M37.16 288.15 L36.61 287.00 L34.95 285.28 L46.60 285.28 M32.73 278.38 L33.84 277.23 L35.50 276.08 L37.72 274.93 L40.50 274.35 L42.72 274.35 L45.49 274.93 L47.71 276.08 L49.38 277.23 L50.48 278.38 M37.72 261.70 L36.61 262.28 L35.50 263.43 L34.95 264.58 L34.95 266.88 L35.50 268.03 L36.61 269.18 L37.72 269.75 L39.38 270.33 L42.16 270.33 L43.83 269.75 L44.94 269.18 L46.05 268.03 L46.60 266.88 L46.60 264.58 L46.05 263.43 L44.94 262.28 L43.83 261.70 M32.73 253.65 L33.84 254.80 L35.50 255.95 L37.72 257.10 L40.50 257.68 L42.72 257.68 L45.49 257.10 L47.71 255.95 L49.38 254.80 L50.48 253.65 M34.95 249.62 L46.60 249.62 M32.73 245.60 L33.84 244.45 L35.50 243.30 L37.72 242.15 L40.50 241.58 L42.72 241.58 L45.49 242.15 L47.71 243.30 L49.38 244.45 L50.48 245.60 M32.73 227.78 L50.48 238.12 M32.73 220.30 L33.84 221.45 L35.50 222.60 L37.72 223.75 L40.50 224.33 L42.72 224.33 L45.49 223.75 L47.71 222.60 L49.38 221.45 L50.48 220.30 M37.72 216.28 L37.16 216.28 L36.05 215.70 L35.50 215.12 L34.95 213.98 L34.95 211.68 L35.50 210.53 L36.05 209.95 L37.16 209.38 L38.27 209.38 L39.38 209.95 L41.05 211.10 L46.60 216.85 L46.60 208.80" fill="none" stroke="#000" stroke-width="1.1" stroke-linecap="round" stroke-linejoin="round"/>
<path d="M38.83 202.30 L42.16 202.76 L44.94 203.34 L46.60 203.91 M38.83 198.16 L46.60 198.16 M39.77 206.21 L39.11 205.35 L38.83 204.20 L38.83 195.86" fill="none" stroke="#000" stroke-width="1.3" stroke-linecap="round" stroke-linejoin="round"/>
<path d="M32.73 192.70 L33.84 191.55 L35.50 190.40 L37.72 189.25 L40.50 188.68 L42.72 188.68 L45.49 189.25 L47.71 190.40 L49.38 191.55 L50.48 192.70 M34.95 181.78 L46.60 181.78 M34.95 185.34 L34.95 178.21" fill="none" stroke="#000" stroke-width="1.1" stroke-linecap="round" stroke-linejoin="round"/>
<path d="M45.46 170.85 L44.68 171.22 L43.90 171.96 L43.51 172.69 L43.51 174.16 L43.90 174.90 L44.68 175.64 L45.46 176.00 L46.63 176.37 L48.58 176.37 L49.75 176.00 L50.53 175.64 L51.31 174.90 L51.70 174.16 L51.70 172.69 L51.31 171.96 L50.53 171.22 L49.75 170.85 M43.51 168.28 L51.70 168.28 M43.51 168.28 L51.70 165.33 M43.51 162.39 L51.70 165.33 M43.51 162.39 L51.70 162.39 M43.51 159.44 L51.70 159.44 M43.51 159.44 L43.51 156.13 L43.90 155.03 L44.29 154.66 L45.07 154.29 L45.85 154.29 L46.63 154.66 L47.02 155.03 L47.41 156.13 M47.41 159.44 L47.41 156.13 L47.80 155.03 L48.19 154.66 L48.97 154.29 L50.14 154.29 L50.92 154.66 L51.31 155.03 L51.70 156.13 L51.70 159.44" fill="none" stroke="#000" stroke-width="1.15" stroke-linecap="round" stroke-linejoin="round"/>
</svg>
</body></html>
